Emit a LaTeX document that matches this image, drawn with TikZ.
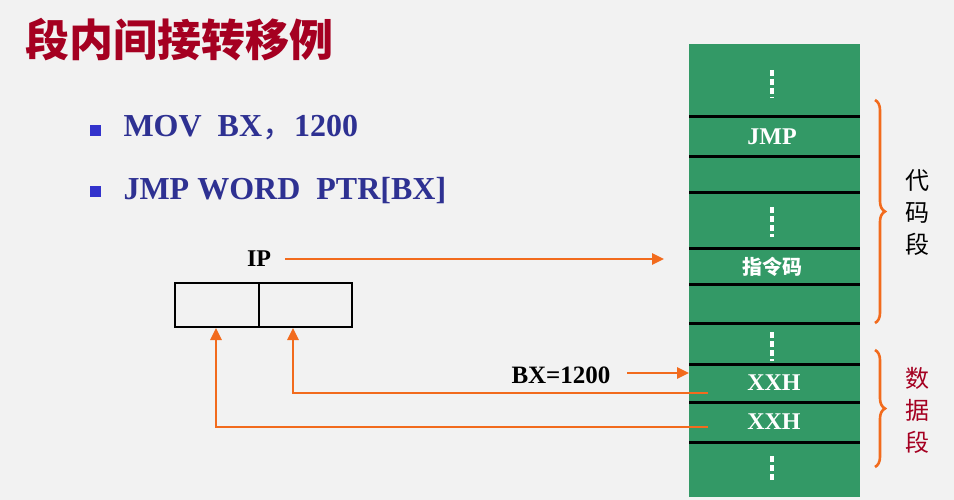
\documentclass[tikz,border=0pt]{standalone}
\usepackage{fontspec}
\setmainfont{Liberation Serif}
\newfontfamily\cjk{Noto Sans CJK SC}
\usetikzlibrary{decorations.pathreplacing,arrows.meta}
\definecolor{bg}{HTML}{F2F2F2}
\definecolor{memg}{HTML}{339966}
\definecolor{ora}{HTML}{F26B1D}
\definecolor{tred}{HTML}{A50021}
\definecolor{navy}{HTML}{2E3192}
\definecolor{bul}{HTML}{3333CC}
\begin{document}
\begin{tikzpicture}[x=1pt,y=-1pt,
  arr/.style={ora,line width=2.6pt,-{Triangle[length=12pt,width=11pt]}},
  sep/.style={black,line width=3pt},
  dots/.style={white,line width=4pt,dash pattern=on 6pt off 3pt},
  brace/.style={ora,line width=2.6pt,decorate,decoration={brace,amplitude=10pt}},
  cell/.style={white,font=\bfseries\fontsize{24}{24}\selectfont},
  item/.style={navy,anchor=west,font=\bfseries\fontsize{32}{32}\selectfont}]
\fill[bg] (0,0) rectangle (954,500);
\useasboundingbox (0,0) rectangle (954,500);
\node[tred,anchor=west,font=\cjk\bfseries\fontsize{44}{44}\selectfont] (title) at (22,40) {段内间接转移例};
\fill[bul] (90,125) rectangle (101,136);
\fill[bul] (90,186) rectangle (101,197);
\node[item] (l1) at (120,128) {MOV\ \ BX{\cjk\mdseries ，}1200};
\node[item] (l2) at (120,191) {JMP WORD\ \ PTR[BX]};
% memory
\fill[memg] (689,44) rectangle (860,497);
\foreach \y in {117,157,193,248,284,323,364,402,442} \draw[sep] (689,\y) -- (860,\y);
\foreach \a/\b in {70/98,207/237,332/361,456/480} \draw[dots] (772,\a) -- (772,\b);
\node[cell] (jmp) at (772,137) {JMP};
\node[cell,font=\cjk\bfseries\fontsize{20}{20}\selectfont] (op) at (772,267) {指令码};
\node[cell] (x1) at (774,383) {XXH};
\node[cell] (x2) at (774,422) {XXH};
\coordinate (m1) at (689,259);
\coordinate (m2) at (689,373);
\coordinate (s1) at (708,393);
\coordinate (s2) at (708,427);
% braces
\draw[brace] (875,100) -- (875,323);
\draw[brace] (875,350) -- (875,467);
\node[font=\cjk\fontsize{24}{32}\selectfont,align=center] (cs) at (917,213) {代\\码\\段};
\node[tred,font=\cjk\fontsize{24}{32}\selectfont,align=center] (ds) at (917,410) {数\\据\\段};
% IP
\node[font=\bfseries\fontsize{24}{24}\selectfont] (ip) at (259,259) {IP};
\draw[black,line width=2pt] (175,283) rectangle (352,327);
\draw[black,line width=2pt] (259,283) -- (259,327);
\coordinate (b1) at (293,328);
\coordinate (b2) at (216,328);
\node[font=\bfseries\fontsize{25}{25}\selectfont] (bx) at (561,375) {BX=1200};
\draw[arr] (285,259) -- (664,259);
\draw[arr] (627,373) -- (689,373);
\draw[arr] (s1) -- (293,393) -- (b1);
\draw[arr] (s2) -- (216,427) -- (b2);
\end{tikzpicture}
\end{document}
